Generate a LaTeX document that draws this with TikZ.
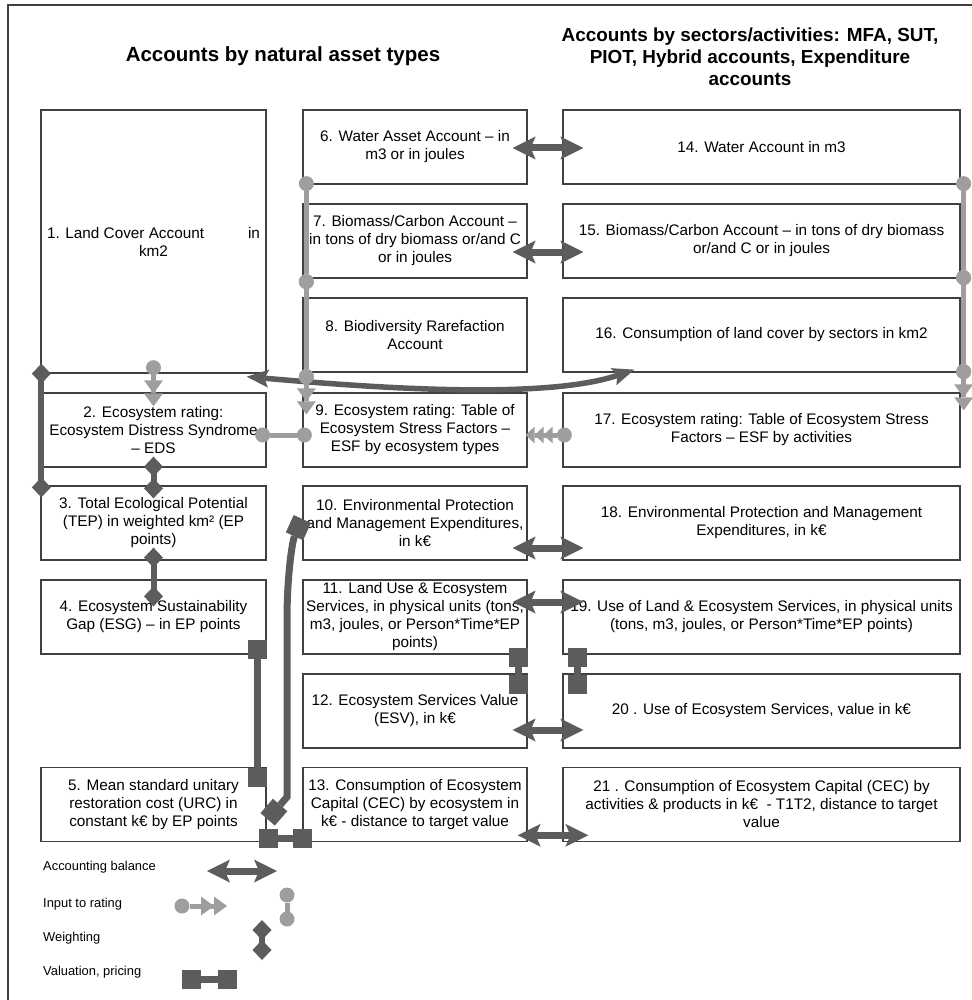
\documentclass[tikz,border=0pt]{standalone}
\usepackage{fontspec}
\setmainfont{Liberation Sans}
\usepackage{tikz}
\usetikzlibrary{arrows.meta,calc}
\definecolor{boxline}{RGB}{64,64,64}
\definecolor{darkarrow}{RGB}{92,92,92}
\definecolor{lightarrow}{RGB}{158,158,158}
\newcommand{\bodysize}{\fontsize{15.3}{18}\selectfont}
\tikzstyle{acc}=[draw=boxline, line width=1.3pt, minimum height=74pt, inner xsep=0pt, inner ysep=2pt, align=center, font=\bodysize, text=black]
\tikzstyle{colA}=[acc, minimum width=225pt]
\tikzstyle{colB}=[acc, minimum width=224pt]
\tikzstyle{colC}=[acc, minimum width=397pt]
\tikzstyle{title}=[align=center, text=black]
\tikzstyle{legtext}=[anchor=west, inner sep=0pt, font=\fontsize{12.9}{15}\selectfont]
\tikzstyle{balance}=[color=darkarrow, line width=7pt, {Stealth[length=23pt,width=23pt,inset=5pt,line width=0pt]}-{Stealth[length=23pt,width=23pt,inset=5pt,line width=0pt]}]
\tikzstyle{swing}=[color=darkarrow, line width=5.5pt, {Stealth[length=22pt,width=18pt,inset=4pt,line width=0pt]}-{Stealth[length=22pt,width=18pt,inset=4pt,line width=0pt]}]
\tikzstyle{rating}=[color=lightarrow, line width=5pt, shorten <=-7.5pt, {Circle[length=15pt,line width=0pt]}-{Triangle[length=13pt,width=19pt,line width=0pt] Triangle[length=13pt,width=19pt,line width=0pt]}]
\tikzstyle{ratingsmall}=[color=lightarrow, line width=5pt, shorten <=-7.5pt, {Circle[length=15pt,line width=0pt]}-{Triangle[length=9pt,width=17pt,line width=0pt] Triangle[length=9pt,width=17pt,line width=0pt] Triangle[length=9pt,width=17pt,line width=0pt]}]
\tikzstyle{dotdot}=[color=lightarrow, line width=5pt, shorten <=-7.5pt, shorten >=-7.5pt, {Circle[length=15pt,line width=0pt]}-{Circle[length=15pt,line width=0pt]}]
\tikzstyle{weight}=[color=darkarrow, line width=6pt, shorten <=-10pt, shorten >=-10pt, {Diamond[length=20pt,width=19pt,line width=0pt]}-{Diamond[length=20pt,width=19pt,line width=0pt]}]
\tikzstyle{value}=[color=darkarrow, line width=7pt, {Square[length=19pt,width=19pt,line width=0pt]}-{Square[length=19pt,width=19pt,line width=0pt]}]

\begin{document}
\begin{tikzpicture}[x=1pt,y=-1pt]
\useasboundingbox (0,0) rectangle (971,1000);
\draw[boxline, line width=1.2pt] (990,5) -- (8,5) -- (8,1010);

\node[title, font=\bfseries\fontsize{20.5}{24}\selectfont] at (283,56) (titleA) {Accounts by natural asset types};
\node[title, font=\bfseries\fontsize{18.9}{22}\selectfont] at (750,57) (titleB) {Accounts by sectors/activities: MFA, SUT,\\PIOT, Hybrid accounts, Expenditure\\accounts};

% natural asset types
\node[colA, minimum height=263pt] at (153.5,241.5) (lc) {1. Land Cover Account\hspace{44pt}in\\km2};
\node[colA, below of = lc, node distance = 188.5pt] (ecoA) {2. Ecosystem rating:\\Ecosystem Distress Syndrome\\– EDS};
\node[colA, below of = ecoA, node distance = 93pt] (tep) {3. Total Ecological Potential\\(TEP) in weighted km² (EP\\points)};
\node[colA, below of = tep, node distance = 94pt] (esg) {4. Ecosystem Sustainability\\Gap (ESG) – in EP points};
\node[colA, below of = esg, node distance = 187.3pt] (urc) {5. Mean standard unitary\\restoration cost (URC) in\\constant k€ by EP points};

\node[colB] at (415,147) (water) {6. Water Asset Account – in\\m3 or in joules};
\node[colB, below of = water, node distance = 94pt] (biomass) {7. Biomass/Carbon Account –\\in tons of dry biomass or/and C\\or in joules};
\node[colB, below of = biomass, node distance = 94pt] (biodiv) {8. Biodiversity Rarefaction\\Account};
\node[colB, below of = biodiv, node distance = 95pt] (esfA) {9. Ecosystem rating: Table of\\Ecosystem Stress Factors –\\ESF by ecosystem types};
\node[colB, below of = esfA, node distance = 93pt] (epe) {10. Environmental Protection\\and Management Expenditures,\\in k€};
\node[colB, below of = epe, node distance = 94pt] (lues) {11. Land Use \& Ecosystem\\Services, in physical units (tons,\\m3, joules, or Person*Time*EP\\points)};
\node[colB, below of = lues, node distance = 94pt] (esv) {12. Ecosystem Services Value\\(ESV), in k€};
\node[colB, below of = esv, node distance = 93.3pt] (cec) {13. Consumption of Ecosystem\\Capital (CEC) by ecosystem in\\k€ - distance to target value};

% sectors / activities
\node[colC] at (761.5,147) (waterS) {14. Water Account in m3};
\node[colC, below of = waterS, node distance = 94pt] (biomassS) {15. Biomass/Carbon Account – in tons of dry biomass\\or/and C or in joules};
\node[colC, below of = biomassS, node distance = 94pt] (landS) {16. Consumption of land cover by sectors in km2};
\node[colC, below of = landS, node distance = 95pt] (esfS) {17. Ecosystem rating: Table of Ecosystem Stress\\Factors – ESF by activities};
\node[colC, below of = esfS, node distance = 93pt] (epeS) {18. Environmental Protection and Management\\Expenditures, in k€};
\node[colC, below of = epeS, node distance = 94pt] (useS) {19. Use of Land \& Ecosystem Services, in physical units\\(tons, m3, joules, or Person*Time*EP points)};
\node[colC, below of = useS, node distance = 94pt] (esvS) {20 . Use of Ecosystem Services, value in k€};
\node[colC, below of = esvS, node distance = 93.3pt] (cecS) {21 . Consumption of Ecosystem Capital (CEC) by\\activities \& products in k€~ - T1T2, distance to target\\value};

% accounting balance
\draw[balance] ($(water.east)+(-15,1)$) -- ($(waterS.west)+(21,1)$);
\draw[balance] ($(biomass.east)+(-15,11)$) -- ($(biomassS.west)+(21,11)$);
\draw[balance] ($(epe.east)+(-15,25)$) -- ($(epeS.west)+(21,25)$);
\draw[balance] ($(lues.east)+(-15,-15)$) -- ($(useS.west)+(21,-15)$);
\draw[balance] ($(esv.east)+(-15,19)$) -- ($(esvS.west)+(21,19)$);
\draw[balance] ($(cec.east)+(-10,31)$) -- ($(cecS.west)+(26,31)$);
\draw[swing] ($(lc.south east)+(-20,3)$) .. controls +(103,9) and +(-95,32) .. ($(landS.south west)+(72,-3)$);

% input to rating
\draw[rating] ($(lc.south)+(0,-6)$) -- ($(ecoA.north)+(0,14)$);
\draw[dotdot] ($(water.south west)+(4,-1)$) -- ($(biomass.south west)+(4,3)$);
\draw[dotdot] ($(biomass.south west)+(4,3)$) -- ($(biodiv.south west)+(4,4)$);
\draw[rating] ($(biodiv.south west)+(4,4)$) -- ($(esfA.north west)+(4,22)$);
\draw[dotdot] ($(waterS.south east)+(3,-1)$) -- ($(biomassS.south east)+(3,-1)$);
\draw[dotdot] ($(biomassS.south east)+(3,-1)$) -- ($(landS.south east)+(3,-1)$);
\draw[rating] ($(landS.south east)+(3,-1)$) -- ($(esfS.north east)+(3,18)$);
\draw[dotdot] ($(ecoA.east)+(-4,5)$) -- ($(esfA.west)+(2,5)$);
\draw[ratingsmall] ($(esfS.west)+(2,5)$) -- ($(esfA.east)+(-2,5)$);

% weighting
\draw[weight] ($(lc.south west)+(1,0)$) -- ($(tep.north west)+(1,2)$);
\draw[weight] ($(ecoA.south)+(0,-1)$) -- ($(tep.north)+(0,3)$);
\draw[weight] ($(tep.south)+(0,-3)$) -- ($(esg.north)+(0,17)$);

% valuation
\draw[value] ($(esg.south east)+(-9,-15)$) -- ($(urc.north east)+(-9,20)$);
\draw[value] ($(urc.south east)+(-8,-3)$) -- ($(cec.south west)+(10,-3)$);
\draw[value] ($(epe.west)+(0,-4)$) .. controls +(-10,22) and +(0,-45) .. (287,620) -- (287,797) -- ($(urc.east)+(1,15)$);
\draw[value] ($(lues.south east)+(-9,-7)$) -- ($(esv.north east)+(-9,21)$);
\draw[value] ($(useS.south west)+(15,-7)$) -- ($(esvS.north west)+(15,21)$);

% legend
\node[legtext] at (43,867) (legbal) {Accounting balance};
\node[legtext] at (43,904) (legrat) {Input to rating};
\node[legtext] at (43,938) (legwt) {Weighting};
\node[legtext] at (43,972) (legval) {Valuation, pricing};
\coordinate (lbalA) at (207,871);
\coordinate (lbalB) at (277,871);
\coordinate (lratA) at (182,906);
\coordinate (lratB) at (227,906);
\coordinate (lratC) at (287,895);
\coordinate (lratD) at (287,919);
\coordinate (lwtA) at (262,930);
\coordinate (lwtB) at (262,950);
\coordinate (lvalA) at (182,979);
\coordinate (lvalB) at (237,979);
\draw[balance] (lbalA) -- (lbalB);
\draw[rating] (lratA) -- (lratB);
\draw[dotdot] (lratC) -- (lratD);
\draw[weight] (lwtA) -- (lwtB);
\draw[value] (lvalA) -- (lvalB);
\end{tikzpicture}
\end{document}
